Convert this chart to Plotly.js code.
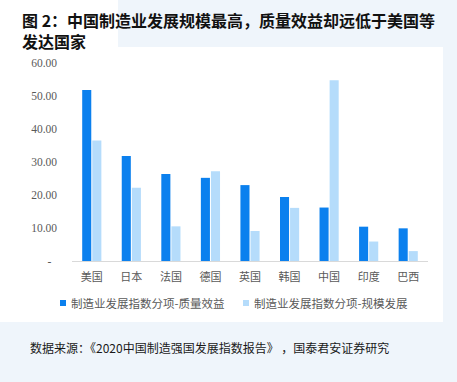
<!DOCTYPE html>
<html><head><meta charset="utf-8">
<script src="https://cdn.plot.ly/plotly-3.0.1.min.js"></script>
<style>html,body{margin:0;padding:0;background:#eff5fb;}#c{width:457px;height:382px;}</style>
</head><body><div id="c"></div>
<script>
const categories = ['美国','日本','法国','德国','英国','韩国','中国','印度','巴西'];
const qualityValues = [51.8, 31.8, 26.4, 25.2, 23.0, 19.4, 16.2, 10.4, 9.9];
const scaleValues = [36.5, 22.2, 10.5, 27.2, 9.1, 16.1, 54.8, 5.9, 3.0];
const seriesNames = ['制造业发展指数分项-质量效益', '制造业发展指数分项-规模发展'];
const seriesColors = ['#0b80ee', '#b5dcfb'];
const yTickVals = [0, 10, 20, 30, 40, 50, 60];
const yTickText = ['-\u00a0\u00a0', '10.00', '20.00', '30.00', '40.00', '50.00', '60.00'];

const W = 457, H = 382, L = 72, R = 29, T = 63, B = 121;
const pw = W - L - R, ph = H - T - B;
const px = x => (x - L) / pw;
const py = y => (H - B - y) / ph;

const traces = [
  {type:'bar', name: seriesNames[0], x: categories, y: qualityValues, marker:{color: seriesColors[0]}, hoverinfo:'skip'},
  {type:'bar', name: seriesNames[1], x: categories, y: scaleValues, marker:{color: seriesColors[1]}, hoverinfo:'skip'}
];
const tickFont = {family:'"Liberation Serif", "Noto Sans CJK SC", serif', size:11.5, color:'#595959'};
const legendFont = {family:'"Noto Sans CJK SC", sans-serif', size:11.5, color:'#595959'};

// custom legend: small square + label for each series
const legendX = [60, 243];
const legendY = 303;
const legendShapes = seriesNames.map((n, i) => ({
  type:'rect', xref:'paper', yref:'paper',
  x0: px(legendX[i]), x1: px(legendX[i] + 6), y0: py(legendY + 3), y1: py(legendY - 3),
  fillcolor: seriesColors[i], line:{width:0}
}));
const legendTexts = seriesNames.map((n, i) => ({
  text: n, xref:'paper', yref:'paper', x: px(legendX[i] + 9), y: py(legendY),
  xanchor:'left', yanchor:'middle', showarrow:false, font: legendFont
}));

const layout = {
  width: W, height: H,
  margin: {l: L, r: R, t: T, b: B, pad: 0},
  paper_bgcolor: '#eff5fb', plot_bgcolor: 'rgba(0,0,0,0)',
  barmode: 'group', bargap: 0.49, bargroupgap: 0.1,
  showlegend: false,
  title: {text: '图 2：中国制造业发展规模最高，质量效益却远低于美国等<br>发达国家',
    font: {family:'"Noto Sans CJK SC", sans-serif', size:16, color:'#111', weight:'bold'},
    xref:'container', yref:'container', x: 22/W, xanchor:'left', y: 1 - 27/H, yanchor:'top', automargin:false},
  xaxis: {showline:true, linecolor:'#d9d9d9', linewidth:1, ticks:'', showgrid:false, zeroline:false,
    tickfont: {family:'"Noto Sans CJK SC", serif', size:11, color:'#595959'}, ticklabelstandoff: 6, fixedrange:true},
  yaxis: {range:[0,60], tickvals: yTickVals, ticktext: yTickText, showgrid:false, zeroline:false, showline:false,
    ticks:'', tickfont: tickFont, ticklabelstandoff: 14, fixedrange:true},
  shapes: [
    {type:'rect', xref:'paper', yref:'paper', x0: px(0), x1: px(443), y0: py(322), y1: py(47), fillcolor:'#ffffff', line:{width:0}, layer:'below'},
    {type:'rect', xref:'paper', yref:'paper', x0: px(0), x1: px(118), y0: py(47), y1: py(0), fillcolor:'#ffffff', line:{width:0}, layer:'below'}
  ].concat(legendShapes),
  annotations: [
    {text:'数据来源：《2020中国制造强国发展指数报告》 ，国泰君安证券研究', xref:'paper', yref:'paper',
     x: px(28), y: py(347), xanchor:'left', yanchor:'middle', showarrow:false,
     font:{family:'"Noto Sans CJK SC", sans-serif', size:12, color:'#1a1a1a'}}
  ].concat(legendTexts)
};
Plotly.newPlot('c', traces, layout, {displayModeBar:false, staticPlot:true});
</script></body></html>
